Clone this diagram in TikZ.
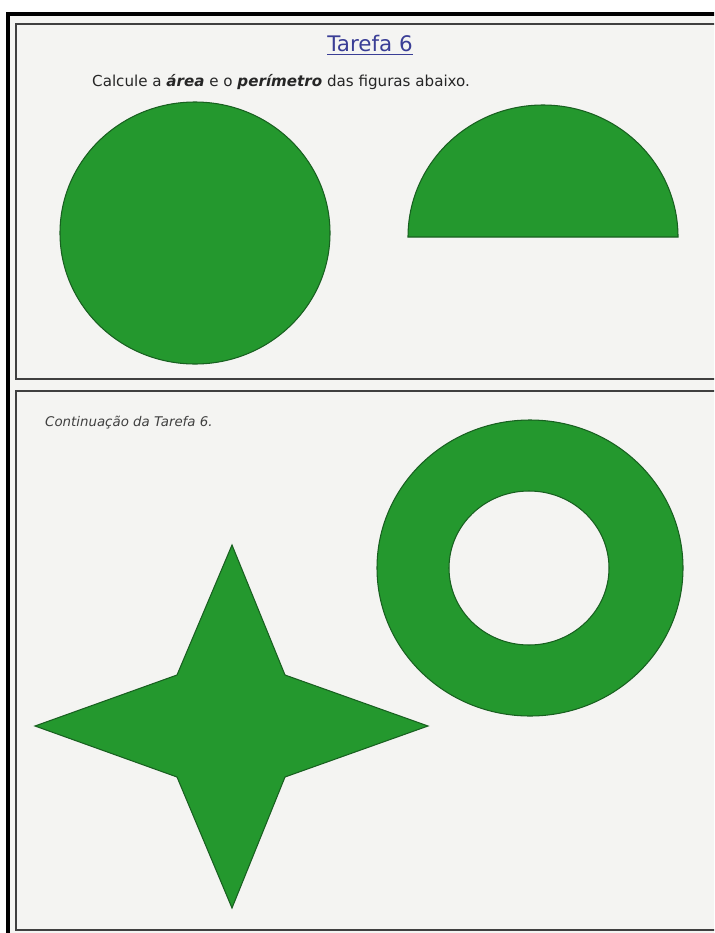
\documentclass[tikz,border=0pt]{standalone}
\usepackage{fontspec}
\setmainfont{DejaVu Sans}
\usepackage{xcolor}
\usepackage{tikz}
\usetikzlibrary{positioning, calc}

\definecolor{figgreen}{RGB}{36,152,46}
\definecolor{figedge}{RGB}{24,96,32}
\definecolor{titleblue}{RGB}{58,62,150}
\definecolor{paper}{RGB}{244,244,242}

\begin{document}
\begin{tikzpicture}[
    x=0.02cm, y=-0.02cm,
    figure/.style={fill=figgreen, draw=figedge, line width=0.6pt},
    frame/.style={draw=black!75, line width=1.3pt},
    heading/.style={font=\fontsize{12.2}{14}\selectfont, text=titleblue},
    task/.style={font=\fontsize{8.6}{10}\selectfont, text=black!85, anchor=west},
    note/.style={font=\itshape\fontsize{7.6}{9}\selectfont, text=black!75, anchor=west}
]
    \useasboundingbox (0,0) rectangle (714,933);
    \clip (0,0) rectangle (714,933);

    % paper and frames
    \fill[paper] (8,14) rectangle (730,945);
    \draw[line width=2pt] (8,14) rectangle (740,960);
    \draw[frame] (16,24) rectangle (730,379);
    \draw[frame] (16,391) rectangle (730,930);

    % texts
    \node[heading] (title) at (370,45) {\underline{Tarefa 6}};
    \node[task] (task) at (86,82) {Calcule a \textbf{\textit{área}} e o \textbf{\textit{perímetro}} das figuras abaixo.};
    \node[note] (cont) at (39,423) {Continuação da Tarefa 6.};

    % first task: circle and half circle
    \path[figure] (195,233) ellipse [x radius=135, y radius=131];
    \path[figure] (408,237) arc [start angle=180, end angle=360, x radius=135, y radius=132] -- cycle;

    % second task: ring and star
    \path[figure, even odd rule] (530,568) ellipse [x radius=153, y radius=148]
        (529,568) ellipse [x radius=80, y radius=77];
    \path[figure] (232,545) -- (285,675) -- (428,726) -- (285,777)
        -- (232,908) -- (177,777) -- (35,726) -- (177,675) -- cycle;
\end{tikzpicture}
\end{document}
